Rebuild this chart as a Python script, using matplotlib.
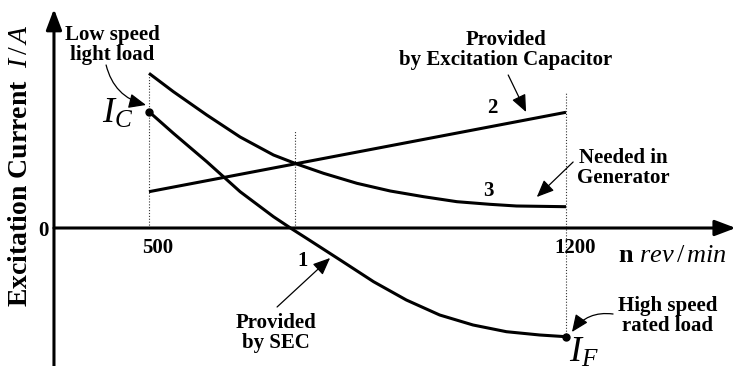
import numpy as np
import matplotlib
matplotlib.use("Agg")
import matplotlib.pyplot as plt

plt.rcParams["font.family"] = "Liberation Serif"
plt.rcParams["font.weight"] = "bold"
plt.rcParams["mathtext.fontset"] = "custom"
plt.rcParams["mathtext.rm"] = "Liberation Serif:weight=normal"
plt.rcParams["mathtext.it"] = "Liberation Serif:style=italic:weight=normal"
plt.rcParams["mathtext.bf"] = "Liberation Serif:weight=bold"

# speed (rev/min) and excitation current (arbitrary units)
n_sec = [500, 541, 597, 625, 653, 709, 740, 765, 821, 877, 932, 988, 1044, 1100, 1156, 1200]
i_sec = [11.63, 9.47, 6.63, 5.13, 3.63, 1.13, -0.1, -1.05, -3.2, -5.37, -7.2, -8.7,
         -9.7, -10.37, -10.7, -10.87]

n_cap = [500, 1200]
i_cap = [3.63, 11.57]

n_need = [500, 541, 597, 653, 709, 748, 793, 849, 905, 961, 1017, 1072, 1117, 1200]
i_need = [15.47, 13.63, 11.3, 9.1, 7.3, 6.4, 5.47, 4.47, 3.7, 3.13, 2.63, 2.37, 2.2, 2.13]

n_ticks = [500, 1200]
n_cross = 745

fig = plt.figure(figsize=(7.36, 3.66), dpi=100)
ax = fig.add_axes([0, 0, 1, 1])
ax.set_xlim(249.9, 1485.4)
ax.set_ylim(-13.8, 22.8)
ax.axis("off")

# axes with arrow heads
x0 = 340.5
axis_arrow = dict(arrowstyle="-|>,head_length=0.45,head_width=0.17", lw=2.2,
                  color="k", mutation_scale=28, shrinkA=0, shrinkB=0)
ax.annotate("", xy=(x0, 21.9), xytext=(x0, -13.8), arrowprops=axis_arrow)
ax.annotate("", xy=(1485, 0), xytext=(x0, 0), arrowprops=axis_arrow)

# dotted guides
dot = dict(color="#333333", lw=0.8, ls=(0, (1, 1.6)))
ax.plot([n_ticks[0]] * 2, [0, i_need[0]], **dot)
ax.plot([n_ticks[1]] * 2, [i_sec[-1], 13.6], **dot)
ax.plot([n_cross] * 2, [0, 9.8], **dot)

# curves
line = dict(color="k", lw=2.2, solid_capstyle="butt", solid_joinstyle="round")
ax.plot(n_sec, i_sec, **line)
ax.plot(n_cap, i_cap, **line)
ax.plot(n_need, i_need, **line)
ax.plot([n_sec[0], n_sec[-1]], [i_sec[0], i_sec[-1]], "o", color="k", ms=5)

fs = 15
for n in n_ticks:
    ax.text(n + 15, -2.0, str(n), fontsize=fs, ha="center", va="center")
ax.text(322, -0.3, "0", fontsize=fs, ha="center", va="center")
ax.text(758, -3.3, "1", fontsize=fs, ha="center", va="center")
ax.text(1077, 12.0, "2", fontsize=fs, ha="center", va="center")
ax.text(1069, 3.7, "3", fontsize=fs, ha="center", va="center")

ax.text(285, 6.2, r"Excitation Current  $I\,/\,A$", fontsize=20, rotation=90,
        ha="center", va="center")
ax.text(1287, -3.4, r"n $rev\,/\,min$", fontsize=19, ha="left", va="baseline")

ax.text(421, 10.5, r"$I_C$", fontsize=26, ha="left", va="baseline")
ax.text(1205, -13.4, r"$I_F$", fontsize=26, ha="left", va="baseline")

ax.text(438, 18.3, "Low speed\nlight load", fontsize=fs, ha="center", va="center",
        linespacing=1.05)
ax.text(1099, 17.8, "Provided\nby Excitation Capacitor", fontsize=fs, ha="center",
        va="center", linespacing=1.05)
ax.text(1296, 6.0, "Needed in\nGenerator", fontsize=fs, ha="center", va="center",
        linespacing=1.05)
ax.text(713, -10.5, "Provided\nby SEC", fontsize=fs, ha="center", va="center",
        linespacing=1.05)
ax.text(1371, -8.8, "High speed\nrated load", fontsize=fs, ha="center", va="center",
        linespacing=1.05)

note = dict(arrowstyle="-|>,head_length=0.7,head_width=0.3", lw=0.9, color="k",
            mutation_scale=15, shrinkA=0, shrinkB=0)
ax.annotate("", xy=(495, 12.3), xytext=(428, 16.3),
            arrowprops=dict(note, connectionstyle="arc3,rad=0.3"))
ax.annotate("", xy=(1133, 11.6), xytext=(1103, 15.3), arrowprops=note)
ax.annotate("", xy=(1151, 3.1), xytext=(1212, 6.6), arrowprops=note)
ax.annotate("", xy=(804, -3.0), xytext=(715, -7.9), arrowprops=note)
ax.annotate("", xy=(1210, -10.4), xytext=(1279, -8.6),
            arrowprops=dict(note, connectionstyle="arc3,rad=0.3"))

fig.savefig("out.png", dpi=100)
